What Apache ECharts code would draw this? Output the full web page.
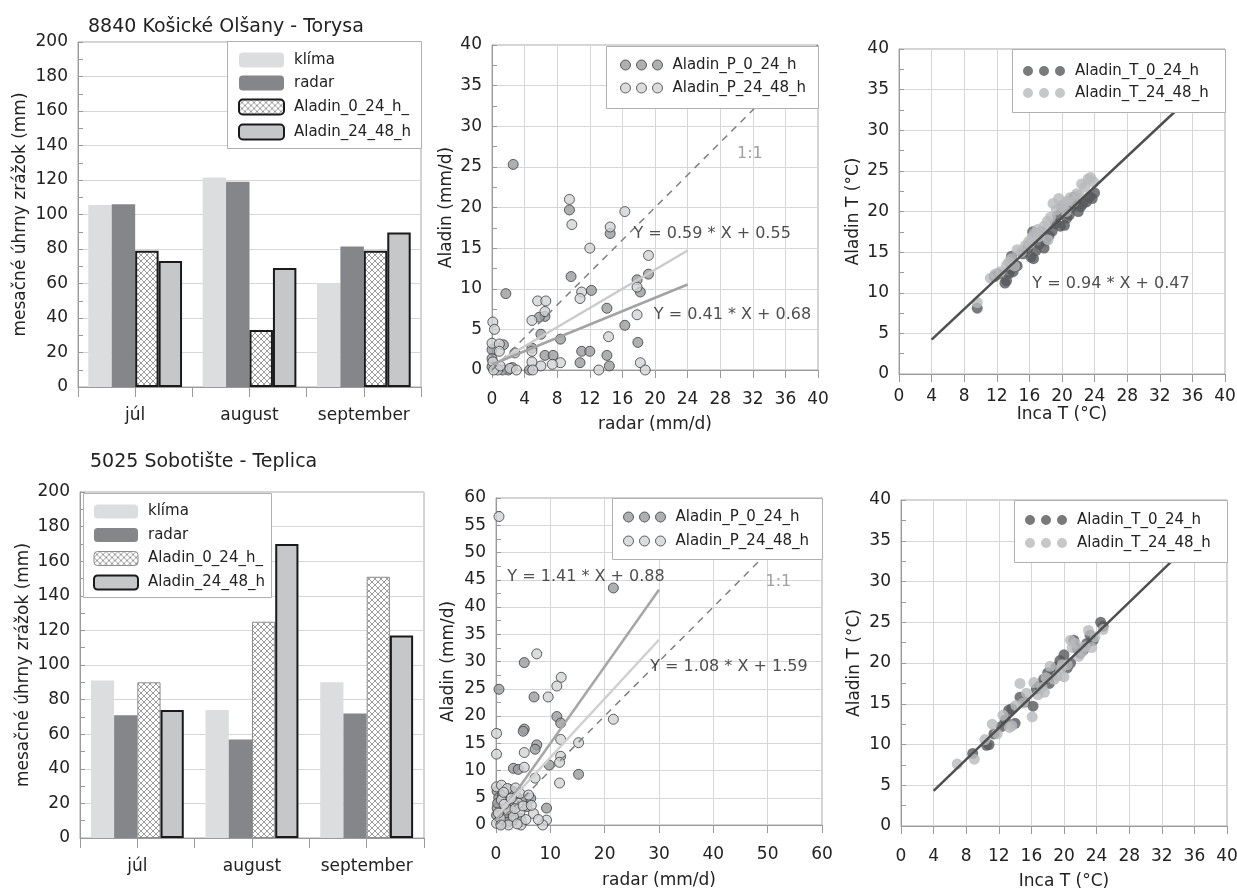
<!DOCTYPE html>
<html><head><meta charset="utf-8">
<script src="https://cdn.jsdelivr.net/npm/echarts@6/dist/echarts.min.js"></script>
<style>html,body{margin:0;padding:0;background:#fff}#c{width:1237px;height:890px}</style>
</head><body><div id="c"></div>
<script>
// ---------------- DATA ----------------
const months = ['júl', 'august', 'september'];
const barNames = ['klíma', 'radar', 'Aladin_0_24_h_', 'Aladin_24_48_h'];
const pNames = ['Aladin_P_0_24_h', 'Aladin_P_24_48_h'];
const tNames = ['Aladin_T_0_24_h', 'Aladin_T_24_48_h'];
const titleTop = '8840 Košické Olšany - Torysa';
const titleBottom = '5025 Sobotište - Teplica';

// monthly totals (mm), top station
const klimaTop = [105.5, 121.5, 60];
const radarTop = [106, 119, 81.5];
const a0Top = [79, 33, 79];
const a24Top = [73, 69, 89.5];
// bottom station
const klimaBot = [91, 74, 90];
const radarBot = [71, 57, 72];
const a0Bot = [90, 125, 151];
const a24Bot = [74, 170, 117];

// daily precipitation, top station [radar, Aladin]
const pTop0 = [[2.6,25.3],[1.7,9.4],[9.5,19.7],[9.7,11.5],[14.5,16.8],[19.2,11.8],[17.8,11.1],[18.2,9.6],[16.3,5.5],[17.9,3.4],[14.1,7.6],[14.1,1.8],[14.4,0.5],[12.2,9.8],[11.0,2.3],[12.0,2.3],[10.8,0.9],[8.4,3.8],[6.5,6.6],[5.8,6.5],[6.0,4.4],[4.9,2.7],[6.5,1.8],[7.5,1.8],[4.6,0],[2.0,0],[1.4,3.1],[0,2.5],[0,1.4],[0,0.4],[1.3,0],[0.5,0.2],[2.5,0.3]];
const pTop24 = [[9.5,21],[9.8,17.9],[12,15],[14.5,17.6],[16.3,19.5],[19.2,14.1],[17.8,10.2],[17.8,6.8],[18.2,0.9],[18.8,0],[14.3,4.1],[13.1,0],[11,9.6],[10.8,8.8],[8.4,0.9],[5.6,8.5],[6.6,8.5],[6.5,7.2],[4.9,6.1],[4.9,2.3],[7.4,0.7],[6.0,0.5],[4.9,1.0],[5.0,0],[2.8,2.1],[2.2,0.2],[3.0,0],[0.1,5.9],[0.3,5.0],[0,3.3],[0.9,3.2],[0.9,2.3],[0.1,1.0],[0.7,0],[0.2,0],[1.0,0.5]];
// daily temperature, top station [Inca, Aladin]
const tTop0 = [[9.6,8.1],[11.7,12.0],[12.2,12.3],[13.0,11.2],[13.2,11.5],[13.5,12.4],[13.8,13.0],[14.0,12.6],[14.3,13.4],[14.5,13.3],[13.8,14.5],[15.2,14.8],[15.8,15.5],[16.2,14.4],[16.5,14.2],[16.4,17.5],[16.8,15.2],[17.2,16.0],[17.8,15.5],[18.0,16.4],[18.4,17.0],[18.8,17.6],[19.2,18.5],[19.5,19.5],[19.8,18.2],[20.3,18.3],[20.6,19.2],[20.9,19.6],[21.2,20.5],[21.5,21.8],[21.8,21.0],[22.0,20.0],[22.3,20.6],[22.6,21.0],[23.0,21.2],[23.4,21.8],[23.7,21.6],[24.0,22.3],[17.5,17.5],[20.0,20.5]];
const tTop24 = [[9.6,8.8],[11.2,11.8],[11.8,12.3],[12.4,12.6],[13.2,13.4],[13.5,13.8],[13.8,14.2],[14.5,15.3],[15.0,15.0],[15.5,15.8],[15.9,16.3],[16.3,16.8],[16.6,17.3],[17.0,17.8],[17.4,17.4],[17.8,18.2],[18.2,18.8],[18.6,19.3],[18.9,21.0],[19.3,20.2],[19.6,21.6],[19.9,20.7],[20.3,20.9],[20.7,21.3],[21.0,21.7],[21.4,21.2],[21.8,22.2],[22.1,22.0],[22.4,23.4],[22.8,23.0],[23.2,24.0],[23.5,24.2],[23.9,23.6],[18.3,16.5],[17.2,16.9],[14.2,13.3],[16.0,16.0],[20.5,20.0]];
// daily precipitation, bottom station
const pBot0 = [[21.6,43.5],[5.2,29.8],[0.55,24.9],[7.0,23.5],[11.2,19.9],[11.9,18.7],[5.2,17.6],[5.0,17.2],[7.5,14.7],[7.2,13.9],[9.8,11.0],[3.2,10.4],[4.1,10.2],[15.2,9.3],[0.2,6.2],[3.2,6.1],[2.6,4.3],[5.7,3.4],[9.3,3.1],[0.2,3.1],[0.1,1.8],[1.0,0.3],[3.2,0.9],[1.6,2.2],[0.5,5.0],[2.0,1.5],[4.5,1.2],[0.3,4.0],[1.2,5.5],[2.5,6.5],[3.8,5.2],[4.8,4.6],[6.4,4.9],[1.8,3.3],[3.0,2.6],[0.6,0.8],[2.2,0.5]];
const pBot24 = [[0.55,56.6],[7.5,31.4],[12.0,27.1],[11.2,25.5],[9.6,23.5],[21.6,19.4],[0.1,16.8],[11.9,15.7],[15.2,15.1],[5.2,13.3],[0.1,13.0],[11.9,12.6],[11.7,11.5],[5.2,10.6],[7.2,8.6],[11.7,7.7],[0.1,7.0],[1.0,7.3],[2.1,6.7],[4.4,5.8],[6.0,5.5],[1.0,4.6],[4.1,4.0],[2.1,2.8],[4.4,2.3],[6.9,2.1],[3.2,1.5],[9.3,0.9],[4.7,0.6],[0.1,0.3],[2.3,0],[4.6,0],[8.6,0],[0.8,1.2],[1.5,3.8],[3.5,3.0],[5.5,1.0],[0.4,2.2],[1.4,6.0],[2.8,4.9],[3.6,6.8],[5.0,3.5],[6.5,3.6],[0.9,0.0],[3.9,0.2],[7.8,1.0]];
// daily temperature, bottom station
const tBot0 = [[8.8,8.9],[10.5,9.9],[10.8,10.0],[11.4,11.3],[12.3,12.2],[13.2,14.2],[13.6,14.4],[14.0,12.6],[14.6,15.8],[15.2,15.2],[16.2,14.7],[16.6,16.8],[17.0,17.2],[17.5,18.0],[18.0,18.8],[18.5,18.5],[19.0,19.5],[19.5,20.3],[20.0,21.0],[20.4,19.4],[20.8,20.0],[21.2,22.8],[21.6,21.8],[22.0,21.2],[22.4,21.6],[22.8,22.4],[23.2,23.4],[23.6,22.8],[24.5,25.0],[24.8,24.5],[18.2,17.5],[12.8,13.0]];
const tBot24 = [[6.9,7.6],[9.0,8.2],[10.3,10.6],[11.2,12.5],[11.8,11.3],[12.5,13.6],[13.3,12.1],[13.6,12.3],[14.1,14.8],[14.6,17.5],[15.0,15.1],[15.4,16.3],[16.1,13.4],[16.3,17.6],[16.8,16.1],[17.3,17.0],[17.8,18.2],[18.3,19.6],[18.8,18.0],[19.2,18.4],[19.6,19.3],[20.0,18.3],[20.4,19.8],[20.8,22.8],[21.0,21.9],[21.4,22.4],[21.8,20.8],[22.2,21.4],[22.6,22.0],[23.0,24.0],[23.4,21.9],[23.8,23.2],[24.8,24.1],[19.8,19.8],[17.6,16.4]];

// regression lines: [slope, intercept, xFrom, xTo]
const regTopP = [[0.59, 0.55, 0, 24], [0.41, 0.68, 0, 24]];
const regBotP = [[1.41, 0.88, 0, 30], [1.08, 1.59, 0, 30]];
const regTopT = [0.94, 0.47, 4, 36];
const regBotT = [0.965, 0.44, 4, 36];
const eqTopP = ['Y = 0.59 * X + 0.55', 'Y = 0.41 * X + 0.68'];
const eqBotP = ['Y = 1.41 * X + 0.88', 'Y = 1.08 * X + 1.59'];
const eqTopT = 'Y = 0.94 * X + 0.47';
const oneToOne = '1:1';

// ---------------- STYLE / LAYOUT ----------------
const FONT = 'DejaVu Sans';
const TXT = '#222';
const GRIDC = '#d6d6d6';
const AXC = '#9a9a9a';

function hatch() {
  const c = document.createElement('canvas');
  c.width = 6; c.height = 6;
  const g = c.getContext('2d');
  g.fillStyle = '#fff'; g.fillRect(0, 0, 6, 6);
  g.strokeStyle = '#9c9c9c'; g.lineWidth = 1;
  g.beginPath();
  g.moveTo(-1, -1); g.lineTo(7, 7);
  g.moveTo(7, -1); g.lineTo(-1, 7);
  g.stroke();
  return c;
}
const hatchFill = { image: hatch(), repeat: 'repeat' };

const gridBoxes = [
  { left: 78, top: 42, width: 343, height: 345 },
  { left: 492, top: 45, width: 326, height: 325 },
  { left: 899, top: 49, width: 326, height: 325 },
  { left: 80, top: 492, width: 344, height: 346 },
  { left: 496, top: 498, width: 326, height: 327 },
  { left: 901, top: 500, width: 326, height: 326 }
];
const grid = gridBoxes.map(g => Object.assign({
  show: true, borderColor: '#a8a8a8', borderWidth: 1, backgroundColor: 'transparent',
  containLabel: false, outerBoundsMode: 'none'
}, g));

const lbl = (margin) => ({ margin, fontSize: 17, color: TXT, fontFamily: FONT });
const nameStyle = { fontSize: 17, color: TXT, fontFamily: FONT };

function catX(gi) {
  return {
    type: 'category', gridIndex: gi, data: months, position: 'bottom',
    axisTick: { show: false }, axisLine: { lineStyle: { color: AXC } },
    axisLabel: Object.assign({ interval: 0, hideOverlap: false }, lbl(20)), splitLine: { show: false }
  };
}
function tickX(gi) {
  return {
    type: 'value', gridIndex: gi, min: 0, max: 6, interval: 1, position: 'bottom',
    axisLine: { show: false }, axisLabel: { show: false }, splitLine: { show: false },
    axisTick: { show: true, length: 10, lineStyle: { color: AXC } }
  };
}
function valX(gi, max, interval, name, margin, nameGap) {
  return {
    type: 'value', gridIndex: gi, min: 0, max, interval, position: 'bottom',
    name, nameLocation: 'middle', nameGap, nameTextStyle: nameStyle,
    axisLine: { lineStyle: { color: AXC } },
    axisTick: { show: true, length: 8, lineStyle: { color: AXC } },
    axisLabel: lbl(margin),
    splitLine: { show: true, lineStyle: { color: GRIDC } }
  };
}
function valY(gi, max, interval, name, nameGap) {
  return {
    type: 'value', gridIndex: gi, min: 0, max, interval,
    name, nameLocation: 'middle', nameGap, nameTextStyle: nameStyle,
    axisLine: { show: true, lineStyle: { color: AXC } },
    axisTick: { show: true, inside: true, length: 5, lineStyle: { color: AXC } },
    minorTick: { show: true, splitNumber: 2, length: 5, lineStyle: { color: AXC } },
    axisLabel: lbl(10),
    splitLine: { show: true, lineStyle: { color: GRIDC } }
  };
}

const xAxis = [
  catX(0), tickX(0),
  valX(1, 40, 4, 'radar (mm/d)', 21, 46),
  valX(2, 40, 4, 'Inca T (°C)', 14, 29),
  catX(3), tickX(3),
  valX(4, 60, 10, 'radar (mm/d)', 21, 47),
  valX(5, 40, 4, 'Inca T (°C)', 22, 47)
];
const yAxis = [
  valY(0, 200, 20, 'mesačné úhrny zrážok (mm)', 49),
  valY(1, 40, 5, 'Aladin (mm/d)', 37),
  valY(2, 40, 5, 'Aladin T (°C)', 37),
  valY(3, 200, 20, 'mesačné úhrny zrážok (mm)', 48),
  valY(4, 60, 5, 'Aladin (mm/d)', 39),
  valY(5, 40, 5, 'Aladin T (°C)', 38)
];

const styleKlima = { color: '#dcdddf' };
const styleRadar = { color: '#85868a' };
const styleA0Top = { color: hatchFill, borderColor: '#1a1a1a', borderWidth: 2 };
const styleA0Bot = { color: hatchFill, borderColor: '#8c8c8c', borderWidth: 1 };
const styleA24 = { color: '#c6c7c9', borderColor: '#1a1a1a', borderWidth: 2 };
const styleP0 = { color: '#9a9b9d', borderColor: '#3c3c3c', borderWidth: 1 };
const styleP24 = { color: '#d2d3d5', borderColor: '#3c3c3c', borderWidth: 1 };
const styleT0 = { color: '#58595b' };
const styleT24 = { color: '#b8b9bb' };

function bars(xi, yi, vals, styles, gap) {
  return vals.map((v, i) => ({
    type: 'bar', name: barNames[i], xAxisIndex: xi, yAxisIndex: yi, data: v,
    barGap: '0%', barCategoryGap: gap, itemStyle: styles[i], silent: true
  }));
}
function scat(name, xi, yi, data, style, size) {
  return { type: 'scatter', name, xAxisIndex: xi, yAxisIndex: yi, data, symbolSize: size, itemStyle: style, silent: true, z: 2 };
}
function seg(xi, yi, a, b, x0, x1, color, width, type) {
  return {
    type: 'line', xAxisIndex: xi, yAxisIndex: yi, data: [[x0, a * x0 + b], [x1, a * x1 + b]],
    symbol: 'none', lineStyle: { color, width, type: type || 'solid' }, silent: true, z: 3
  };
}
function note(xi, yi, pos, text, color) {
  return {
    type: 'scatter', xAxisIndex: xi, yAxisIndex: yi, data: [pos], symbolSize: 1,
    itemStyle: { color: 'rgba(0,0,0,0)' }, silent: true, z: 4,
    label: { show: true, position: 'right', distance: 0, formatter: text, fontSize: 16, color: color || TXT, fontFamily: FONT }
  };
}

const series = [].concat(
  bars(0, 0, [klimaTop, radarTop, a0Top, a24Top], [styleKlima, styleRadar, styleA0Top, styleA24], '18%'),
  bars(4, 3, [klimaBot, radarBot, a0Bot, a24Bot], [styleKlima, styleRadar, styleA0Bot, styleA24], '19%'),
  [
    scat(pNames[0], 2, 1, pTop0, styleP0, 10),
    scat(pNames[1], 2, 1, pTop24, styleP24, 10),
    seg(2, 1, 1, 0, 0, 40, '#808080', 1.5, [7, 6]),
    seg(2, 1, regTopP[0][0], regTopP[0][1], regTopP[0][2], regTopP[0][3], '#cbcbcb', 2.5),
    seg(2, 1, regTopP[1][0], regTopP[1][1], regTopP[1][2], regTopP[1][3], '#a3a3a3', 2.5),
    note(2, 1, [17.3, 16.7], eqTopP[0]),
    note(2, 1, [19.8, 6.8], eqTopP[1]),
    note(2, 1, [30.0, 26.6], oneToOne, '#8a8a8a'),

    scat(tNames[0], 3, 2, tTop0, styleT0, 11),
    scat(tNames[1], 3, 2, tTop24, styleT24, 11),
    seg(3, 2, regTopT[0], regTopT[1], regTopT[2], regTopT[3], '#4f4f4f', 2.5),
    note(3, 2, [16.3, 11.1], eqTopT),

    scat(pNames[0], 6, 4, pBot0, styleP0, 10),
    scat(pNames[1], 6, 4, pBot24, styleP24, 10),
    seg(6, 4, 1, 0, 0, 60, '#808080', 1.5, [7, 6]),
    seg(6, 4, regBotP[0][0], regBotP[0][1], regBotP[0][2], regBotP[0][3], '#a6a6a6', 2.5),
    seg(6, 4, regBotP[1][0], regBotP[1][1], regBotP[1][2], regBotP[1][3], '#d0d0d0', 2.5),
    note(6, 4, [2.0, 45.5], eqBotP[0]),
    note(6, 4, [28.3, 29.0], eqBotP[1]),
    note(6, 4, [49.5, 44.6], oneToOne, '#8a8a8a'),

    scat(tNames[0], 7, 5, tBot0, styleT0, 11),
    scat(tNames[1], 7, 5, tBot24, styleT24, 11),
    seg(7, 5, regBotT[0], regBotT[1], regBotT[2], regBotT[3], '#4f4f4f', 2.5)
  ]
);

const threeDots = 'path://M0,5a5,5 0 1,0 10,0a5,5 0 1,0 -10,0M16,5a5,5 0 1,0 10,0a5,5 0 1,0 -10,0M32,5a5,5 0 1,0 10,0a5,5 0 1,0 -10,0';
const legText = { fontSize: 15, color: TXT, fontFamily: FONT, padding: [0, 0, 0, 5] };
function leg(data, left, top, w, h, gap) {
  return { data, left, top, orient: 'vertical', itemWidth: w, itemHeight: h, itemGap: gap,
    padding: 0, selectedMode: false, textStyle: legText, symbolKeepAspect: true, z: 20 };
}
const barLegTop = [
  { name: barNames[0], itemStyle: Object.assign({ borderWidth: 0 }, styleKlima) },
  { name: barNames[1], itemStyle: Object.assign({ borderWidth: 0 }, styleRadar) },
  { name: barNames[2], itemStyle: styleA0Top },
  { name: barNames[3], itemStyle: styleA24 }
];
const barLegBot = [
  { name: barNames[0], itemStyle: Object.assign({ borderWidth: 0 }, styleKlima) },
  { name: barNames[1], itemStyle: Object.assign({ borderWidth: 0 }, styleRadar) },
  { name: barNames[2], itemStyle: styleA0Bot },
  { name: barNames[3], itemStyle: styleA24 }
];
const pLeg = [
  { name: pNames[0], icon: threeDots, itemStyle: styleP0 },
  { name: pNames[1], icon: threeDots, itemStyle: styleP24 }
];
const tLeg = [
  { name: tNames[0], icon: threeDots, itemStyle: Object.assign({ borderWidth: 0 }, styleT0) },
  { name: tNames[1], icon: threeDots, itemStyle: Object.assign({ borderWidth: 0 }, styleT24) }
];
const legend = [
  leg(barLegTop, 238, 52.5, 45, 15, 8),
  leg(pLeg, 620, 57.5, 42, 15, 8),
  leg(tLeg, 1023, 63.5, 42, 15, 7),
  leg(barLegBot, 93, 504, 44, 14, 8.5),
  leg(pLeg, 623, 509.5, 42, 15, 9),
  leg(tLeg, 1025, 512.5, 42, 15, 8)
];

const legendBoxes = [
  [227, 41, 194, 107], [606, 46, 212, 62], [1012, 49, 213, 63],
  [83, 493, 188, 104], [612, 498, 210, 61], [1014, 500, 213, 62]
];
const graphic = {
  z: 10,
  elements: legendBoxes.map(b => ({
    type: 'rect', z: 10, silent: true,
    shape: { x: b[0] + 0.5, y: b[1] + 0.5, width: b[2], height: b[3] },
    style: { fill: '#fff', stroke: '#b0b0b0', lineWidth: 1 }
  }))
};

const title = [
  { text: titleTop, left: 83, top: 13, textStyle: { fontSize: 19, fontWeight: 'normal', color: TXT, fontFamily: FONT } },
  { text: titleBottom, left: 85, top: 448, textStyle: { fontSize: 19, fontWeight: 'normal', color: TXT, fontFamily: FONT } }
];

const chart = echarts.init(document.getElementById('c'), null, { renderer: 'canvas' });
chart.setOption({
  animation: false,
  backgroundColor: '#fff',
  textStyle: { fontFamily: FONT },
  title, grid, xAxis, yAxis, legend, graphic, series
});
</script>
</body></html>
